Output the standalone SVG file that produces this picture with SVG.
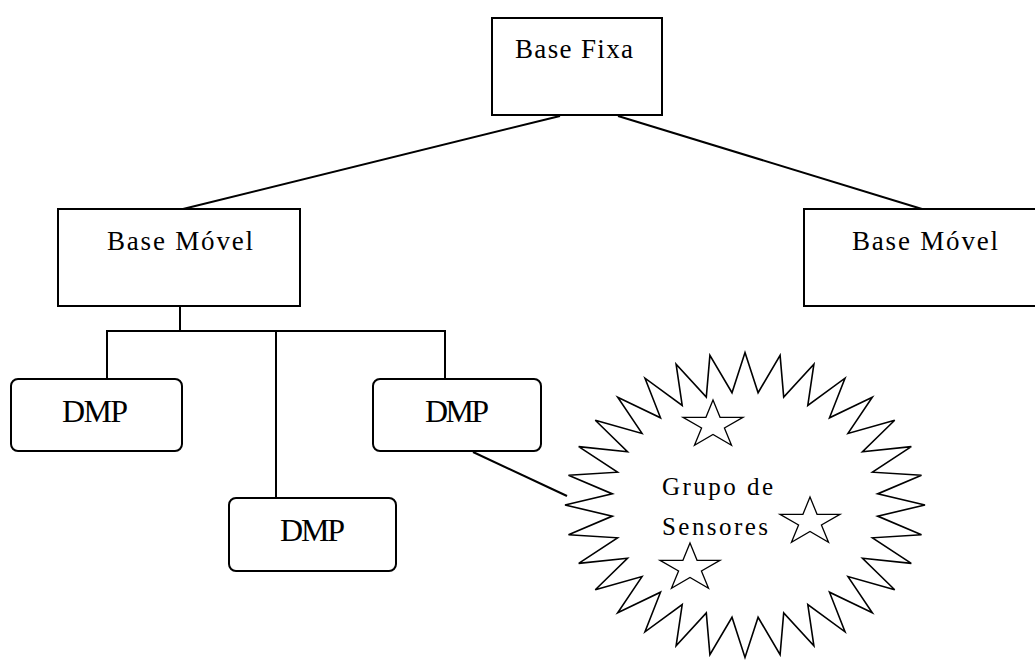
<svg xmlns="http://www.w3.org/2000/svg" width="1035" height="662" viewBox="0 0 1035 662">
<style>
.box{fill:#fff;stroke:#000;stroke-width:2}
.conn{fill:none;stroke:#000;stroke-width:2}
.t{font-family:"Liberation Serif","Times New Roman",serif;fill:#000}
.burst{fill:#fff;stroke:#000;stroke-width:1.6;stroke-linejoin:miter}
.star{fill:#fff;stroke:#000;stroke-width:1.3}
</style>
<defs>
<polygon id="star5" points="0,-25 7.07,-7.7 29.96,-7.7 11.43,2.95 18.52,20.2 0,9.55 -18.52,20.2 -11.43,2.95 -29.96,-7.7 -7.07,-7.7"/>
</defs>
<rect width="1035" height="662" fill="#fff"/>
<g id="connectors">
<line class="conn" x1="560" y1="116" x2="183" y2="209"/>
<line class="conn" x1="618" y1="116" x2="922" y2="209"/>
<polyline class="conn" points="180,306 180,331"/>
<polyline class="conn" points="107,379 107,331 445,331 445,379"/>
<line class="conn" x1="276" y1="331" x2="276" y2="498"/>
<line class="conn" x1="473" y1="452" x2="567" y2="496"/>
</g>
<g id="base-fixa">
<rect class="box" x="492" y="18" width="170" height="97"/>
<text class="t" x="515" y="58" font-size="27" textLength="118">Base Fixa</text>
</g>
<g id="base-movel-1">
<rect class="box" x="58" y="209" width="242" height="97"/>
<text class="t" x="107" y="250" font-size="27" textLength="146">Base Móvel</text>
</g>
<g id="base-movel-2">
<rect class="box" x="804" y="209" width="242" height="97"/>
<text class="t" x="852" y="250" font-size="27" textLength="146">Base Móvel</text>
</g>
<g id="dmp-1">
<rect class="box" x="11" y="379" width="171" height="72" rx="7"/>
<text class="t" x="62" y="422" font-size="32" textLength="66">DMP</text>
</g>
<g id="dmp-2">
<rect class="box" x="373" y="379" width="168" height="72" rx="7"/>
<text class="t" x="425" y="422" font-size="32" textLength="64">DMP</text>
</g>
<g id="dmp-3">
<rect class="box" x="229" y="498" width="167" height="73" rx="7"/>
<text class="t" x="280" y="541" font-size="32" textLength="65">DMP</text>
</g>
<g id="grupo-sensores">
<polygon class="burst" points="745,352.5 758.1,392.7 780.1,355.4 783.7,397 813.9,364.1 807.8,405.5 845,378.2 829.5,417.8 872.3,397.2 848,433.4 894.7,420.3 862.5,451.8 911.3,446.6 872.5,472.2 921.5,475.3 877.6,493.9 925,505 877.6,516.1 921.5,534.8 872.5,537.8 911.3,563.4 862.5,558.2 894.7,589.7 848,576.6 872.3,612.8 829.5,592.2 845,631.8 807.8,604.5 813.9,645.9 783.7,613 780.1,654.6 758.1,617.3 745,657.5 732,617.3 709.9,654.6 706.3,613 676.1,645.9 682.2,604.5 645,631.8 660.5,592.2 617.7,612.8 642,576.6 595.3,589.7 627.5,558.2 578.7,563.4 617.5,537.8 568.5,534.8 612.4,516.1 565,505 612.4,493.9 568.5,475.3 617.5,472.2 578.7,446.6 627.5,451.8 595.3,420.3 642,433.4 617.7,397.2 660.5,417.8 645,378.2 682.2,405.5 676.1,364.1 706.3,397 709.9,355.4 732,392.7"/>
<use href="#star5" class="star" x="713" y="425"/>
<use href="#star5" class="star" x="810" y="522"/>
<use href="#star5" class="star" x="690" y="568"/>
<text class="t" x="662" y="495" font-size="25" textLength="111">Grupo de</text>
<text class="t" x="662" y="535" font-size="25" textLength="106">Sensores</text>
</g>
</svg>
